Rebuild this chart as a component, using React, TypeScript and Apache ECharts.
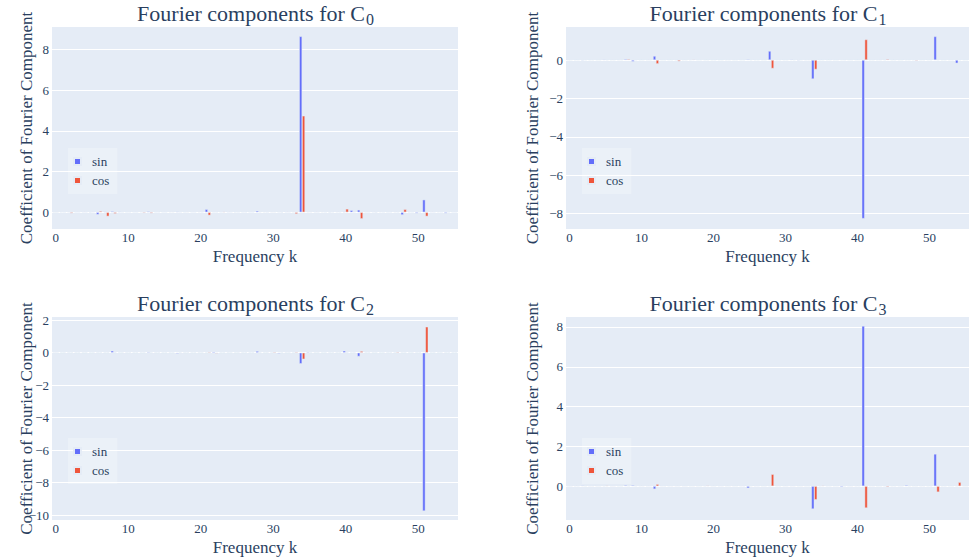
import React, { useEffect, useRef } from "react";
import * as echarts from "echarts";

// Frequencies k
const freqs = [
  0, 1, 2, 3, 4, 5, 6, 7, 8, 9,
  10, 11, 12, 13, 14, 15, 16, 17, 18, 19,
  20, 21, 22, 23, 24, 25, 26, 27, 28, 29,
  30, 31, 32, 33, 34, 35, 36, 37, 38, 39,
  40, 41, 42, 43, 44, 45, 46, 47, 48, 49,
  50, 51, 52, 53, 54, 55,
];

const c0Sin = [
  0, 0.01, 0.02, 0.01, 0.01, -0.02, -0.11, 0.03, 0.05, 0.03,
  0.01, 0.01, 0.02, 0.04, 0.01, 0.01, 0.02, 0.03, 0.01, 0.01,
  0.02, 0.15, 0.01, 0.01, 0.01, 0.01, 0.01, 0.01, 0.07, 0.02,
  0.02, 0.01, 0.01, 0.02, 8.64, 0.02, 0.01, 0.02, -0.02, 0.02,
  0.03, 0.1, 0.12, 0.01, 0.01, 0.02, 0.01, 0.02, -0.13, 0.01,
  -0.05, 0.62, 0.01, 0.02, -0.05, 0.01,
];
const c0Cos = [
  0, 0.01, -0.05, 0.01, 0.01, 0.02, 0.06, -0.2, -0.07, 0.01,
  0.01, 0.01, -0.04, -0.05, 0.01, 0.01, 0.02, 0.01, 0.02, 0.01,
  0.01, -0.15, 0.01, 0.03, 0.01, 0.01, 0.01, 0.01, 0.02, 0.01,
  0.02, -0.02, 0.01, -0.08, 4.74, 0.02, 0.01, 0.01, 0.01, 0.01,
  0.17, 0.02, -0.32, 0.01, -0.02, 0.01, 0.01, 0.01, 0.15, 0.01,
  0.01, -0.2, 0.01, 0.01, 0.01, 0.01,
];
const c1Sin = [
  0, 0.01, -0.03, 0.01, 0.01, 0.03, 0.01, 0.01, 0.05, -0.08,
  0.01, 0.01, 0.21, 0.01, 0.01, 0.01, 0.01, 0.01, 0.01, 0.01,
  0.01, 0.01, 0.01, 0.01, 0.01, 0.04, 0.01, 0.01, 0.47, 0.01,
  0.01, 0.03, -0.03, 0.01, -0.99, 0.01, 0.01, 0.01, 0.02, 0.01,
  0.01, -8.26, 0.01, 0.01, 0.01, 0.01, 0.01, 0.01, 0.01, 0.01,
  0.02, 1.23, 0.01, 0.01, -0.17, 0.01,
];
const c1Cos = [
  0, 0.01, 0.01, 0.01, 0.01, 0.01, 0.01, 0.01, 0.05, 0.01,
  0.01, 0.01, -0.2, 0.01, 0.01, -0.07, 0.01, 0.03, 0.01, 0.01,
  0.01, 0.01, 0.01, 0.01, 0.01, 0.01, 0.01, 0.01, -0.44, 0.01,
  0.01, 0.01, 0.01, 0.01, -0.49, 0.01, 0.01, 0.01, 0.01, 0.01,
  0.01, 1.07, 0.01, 0.01, 0.05, 0.01, 0.01, 0.01, -0.04, 0.01,
  0.01, 0.01, 0.01, 0.01, 0.01, 0.01,
];
const c2Sin = [
  0, 0.01, 0.01, 0.01, 0.01, 0.01, 0.01, 0.01, 0.12, 0.01,
  0.01, 0.01, 0.01, 0.05, 0.01, 0.01, 0.01, -0.05, 0.01, 0.01,
  0.01, 0.01, 0.06, 0.01, 0.01, 0.01, 0.01, 0.01, 0.1, 0.01,
  0.01, -0.05, 0.01, 0.01, -0.68, 0.05, 0.01, 0.01, 0.01, 0.01,
  0.12, 0.01, -0.23, 0.01, 0.01, 0.01, 0.01, 0.01, 0.01, 0.01,
  0.01, -9.75, 0.01, 0.01, 0.01, 0.01,
];
const c2Cos = [
  0, 0.01, 0.01, 0.01, 0.01, 0.01, 0.01, 0.01, 0.01, 0.01,
  0.01, 0.01, 0.01, 0.01, 0.01, 0.01, 0.01, 0.01, 0.01, 0.01,
  0.01, 0.05, -0.04, 0.01, 0.01, 0.01, 0.01, 0.01, 0.01, 0.01,
  0.05, 0.01, 0.01, 0.05, -0.4, 0.01, 0.01, 0.01, 0.01, 0.01,
  0.01, 0.01, 0.1, 0.01, 0.01, 0.01, 0.01, 0.05, 0.01, 0.01,
  0.01, 1.6, 0.01, 0.01, 0.01, 0.01,
];
const c3Sin = [
  0, 0.01, 0.03, 0.01, 0.01, 0.01, 0.01, 0.01, 0.05, 0.05,
  0.01, 0.01, -0.15, 0.01, 0.01, 0.01, 0.01, 0.01, 0.01, 0.01,
  0.01, 0.01, 0.01, 0.01, 0.01, -0.1, 0.01, 0.01, 0.01, 0.01,
  0.01, 0.01, 0.01, 0.01, -1.15, 0.01, 0.01, 0.01, -0.05, 0.01,
  0.01, 8.05, 0.01, 0.01, 0.01, 0.01, 0.01, 0.05, 0.01, 0.01,
  0.01, 1.62, 0.01, 0.01, 0.01, 0.01,
];
const c3Cos = [
  0, 0.01, 0.01, 0.01, 0.01, 0.03, 0.01, 0.01, 0.01, 0.01,
  0.01, 0.01, 0.1, 0.01, 0.01, 0.01, 0.01, 0.01, 0.01, 0.03,
  0.01, 0.01, 0.01, 0.01, 0.01, 0.01, 0.01, 0.01, 0.6, 0.01,
  0.01, 0.01, 0.01, 0.01, -0.68, 0.03, 0.01, 0.01, 0.01, 0.01,
  0.01, -1.1, 0.01, 0.01, -0.05, 0.01, 0.01, 0.01, 0.01, 0.01,
  0.01, -0.3, 0.01, 0.01, 0.2, 0.01,
];

const subscripts = ["0", "1", "2", "3"];
const yRanges: [number, number][] = [
  [-0.82, 9.1],
  [-8.8, 1.72],
  [-10.3, 2.2],
  [-1.7, 8.5],
];

const FONT = '"Liberation Serif", "Times New Roman", serif';
const TXT = "#2a3f5f";
const BG = "#E5ECF6";
const SIN_C = "#636efa";
const COS_C = "#EF553B";

const panels = [
  { sin: c0Sin, cos: c0Cos, grid: { left: 52, top: 27, width: 406, height: 202 }, yGap: 17 },
  { sin: c1Sin, cos: c1Cos, grid: { left: 566, top: 27, width: 403, height: 202 }, yGap: 25 },
  { sin: c2Sin, cos: c2Cos, grid: { left: 52, top: 317, width: 406, height: 203 }, yGap: 17 },
  { sin: c3Sin, cos: c3Cos, grid: { left: 566, top: 317, width: 403, height: 203 }, yGap: 25 },
];

const fmt = (v: number) => (v < 0 ? "\u2212" + Math.abs(v) : String(v));

export default function App() {
  const ref = useRef<HTMLDivElement>(null);
  useEffect(() => {
    if (!ref.current) return;
    const chart = echarts.init(ref.current, undefined, { renderer: "svg" });
    const graphic: any[] = [];
    panels.forEach((p, i) => {
      const cx = p.grid.left + p.grid.width / 2;
      const ty = p.grid.top - 14;
      graphic.push({
        type: "text",
        x: cx + 110,
        y: ty,
        style: {
          text: "Fourier components for C",
          font: `22px ${FONT}`,
          fill: TXT,
          textAlign: "right",
          textVerticalAlign: "middle",
          align: "right",
          verticalAlign: "middle",
        },
      });
      graphic.push({
        type: "text",
        x: cx + 111,
        y: ty + 6,
        style: {
          text: subscripts[i],
          font: `16px ${FONT}`,
          fill: TXT,
          textAlign: "left",
          textVerticalAlign: "middle",
          align: "left",
          verticalAlign: "middle",
        },
      });
    });

    const option: any = {
      animation: false,
      backgroundColor: "#ffffff",
      textStyle: { fontFamily: FONT },
      grid: panels.map((p) => ({
        ...p.grid,
        show: true,
        backgroundColor: BG,
        borderWidth: 0,
        containLabel: false,
      })),
      xAxis: panels.map((p, i) => ({
        type: "value",
        gridIndex: i,
        min: -0.5,
        max: 55.5,
        minInterval: 10,
        maxInterval: 10,
        axisLine: { show: false },
        axisTick: { show: false },
        splitLine: { show: false },
        axisLabel: {
          showMinLabel: false,
          showMaxLabel: false,
          margin: 2,
          fontSize: 13,
          color: TXT,
          fontFamily: FONT,
        },
        name: "Frequency k",
        nameLocation: "middle",
        nameGap: 19,
        nameMoveOverlap: false,
        nameTextStyle: { fontSize: 17, color: TXT, fontFamily: FONT },
      })),
      yAxis: panels.map((p, i) => ({
        type: "value",
        gridIndex: i,
        min: yRanges[i][0],
        max: yRanges[i][1],
        minInterval: 2,
        maxInterval: 2,
        axisLine: { show: false },
        axisTick: { show: false },
        splitLine: {
          show: true,
          showMinLine: false,
          showMaxLine: false,
          lineStyle: { color: "#ffffff", width: 1 },
        },
        axisLabel: {
          showMinLabel: false,
          showMaxLabel: false,
          margin: 3,
          fontSize: 13,
          color: TXT,
          fontFamily: FONT,
          formatter: fmt,
        },
        name: "Coefficient of Fourier Component",
        nameLocation: "middle",
        nameGap: p.yGap,
        nameMoveOverlap: false,
        nameTextStyle: { fontSize: 17, color: TXT, fontFamily: FONT },
      })),
      legend: panels.map((p) => ({
        data: ["sin", "cos"],
        orient: "vertical",
        left: p.grid.left + 16,
        top: p.grid.top + 121,
        icon: "path://M0,0L7,0L7,7L0,7Z",
        itemWidth: 19,
        itemHeight: 7,
        itemGap: 6,
        padding: [7, 8, 7, 5],
        backgroundColor: "rgba(255,255,255,0.25)",
        selectedMode: false,
        textStyle: { fontSize: 13, color: TXT, fontFamily: FONT },
      })),
      graphic,
      series: panels.flatMap((p, i) => [
        {
          type: "bar",
          name: "sin",
          xAxisIndex: i,
          yAxisIndex: i,
          data: freqs.map((k, j) => [k, p.sin[j]]),
          barWidth: 2.9,
          barGap: "0%",
          itemStyle: { color: SIN_C, borderColor: BG, borderWidth: 0.5 },
        },
        {
          type: "bar",
          name: "cos",
          xAxisIndex: i,
          yAxisIndex: i,
          data: freqs.map((k, j) => [k, p.cos[j]]),
          barWidth: 2.9,
          barGap: "0%",
          itemStyle: { color: COS_C, borderColor: BG, borderWidth: 0.5 },
        },
      ]),
    };
    chart.setOption(option);
    return () => chart.dispose();
  }, []);
  return (
    <div
      ref={ref}
      style={{ position: "fixed", left: 0, top: 0, width: 969, height: 558, background: "#fff" }}
    />
  );
}
